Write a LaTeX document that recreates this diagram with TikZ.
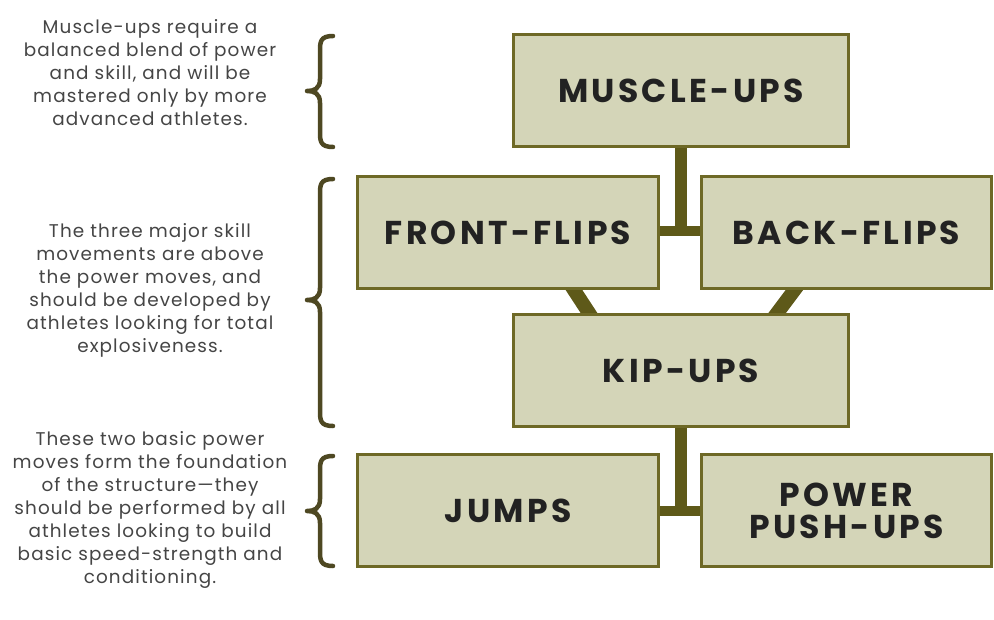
\documentclass[tikz,border=0pt]{standalone}
\usepackage{fontspec}
\setmainfont{Poppins}
\newfontfamily\headfont[LetterSpace=10]{Poppins}
\newfontfamily\bodyfont[LetterSpace=6]{Poppins}
\usetikzlibrary{backgrounds,calc}
\definecolor{boxfill}{HTML}{D4D5B8}
\definecolor{boxline}{HTML}{6E6926}
\definecolor{conn}{HTML}{5E5919}
\definecolor{bracecol}{HTML}{4E4822}
\definecolor{headtxt}{HTML}{222222}
\definecolor{bodytxt}{HTML}{454545}
\tikzset{
  stepbox/.style={draw=boxline, fill=boxfill, line width=3pt, inner sep=0pt, outer sep=0pt,
    minimum height=112pt, text=headtxt, font=\headfont\fontsize{33}{34}\selectfont\bfseries, align=center},
  widebox/.style={stepbox, minimum width=335pt},
  midbox/.style={stepbox, minimum width=301pt},
  rightbox/.style={stepbox, minimum width=290pt},
  note/.style={text=bodytxt, font=\bodyfont\fontsize{18.4}{23}\selectfont, align=center, inner sep=0pt},
  link/.style={draw=conn, line width=12pt},
  bar/.style={draw=conn, line width=10pt},
  slant/.style={draw=conn, line width=14pt, shorten <=-6pt, shorten >=-6pt},
  bracestyle/.style={draw=bracecol, line width=4.5pt, line cap=round, line join=round},
}
\newcommand{\mybrace}[3]{% top y, bottom y, tip y
  \draw[bracestyle] (333,#1) .. controls (320,#1) and (320,#1+6) .. (320,#1+16)
    -- (320,#3-12) .. controls (320,#3-2) and (314,#3) .. (307,#3)
    .. controls (314,#3) and (320,#3+2) .. (320,#3+12)
    -- (320,#2-16) .. controls (320,#2-6) and (320,#2) .. (333,#2);}
\begin{document}
\begin{tikzpicture}[x=1pt,y=-1pt]
\useasboundingbox (0,0) rectangle (994,619);

\node[widebox] (mu) at (681,90.5) {MUSCLE-UPS};
\node[midbox] (ff) at (508,232.5) {FRONT-FLIPS};
\node[rightbox] (bf) at (846.5,232.5) {BACK-FLIPS};
\node[widebox] (kip) at (681,370.5) {KIP-UPS};
\node[midbox] (jp) at (508,510.5) {JUMPS};
\node[rightbox] (pp) at (846.5,510.5) {POWER\\[-2pt]PUSH-UPS};

\begin{scope}[on background layer]
  \fill[white] (0,0) rectangle (994,619);
  \draw[link] (mu.south) -- (mu.south |- ff.east);
  \draw[bar] ([yshift=2pt]ff.east) -- ([yshift=2pt]bf.west);
  \draw[slant] ([xshift=65pt]ff.south) -- ([xshift=-91pt]kip.north);
  \draw[slant] ([xshift=-51pt]bf.south) -- ([xshift=95pt]kip.north);
  \draw[link] (kip.south) -- (kip.south |- jp.east);
  \draw[bar] (jp.east) -- (pp.west);
\end{scope}

\node[note] (n1) at (150,73) {Muscle-ups require a\\balanced blend of power\\and skill, and will be\\mastered only by more\\advanced athletes.};
\node[note] (n2) at (150,290) {The three major skill\\movements are above\\the power moves, and\\should be developed by\\athletes looking for total\\explosiveness.};
\node[note] (n3) at (150,510) {These two basic power\\moves form the foundation\\of the structure—they\\should be performed by all\\athletes looking to build\\basic speed-strength and\\conditioning.};

\mybrace{36}{147}{91}
\mybrace{179}{426}{300}
\mybrace{456}{566}{511}
\end{tikzpicture}
\end{document}
